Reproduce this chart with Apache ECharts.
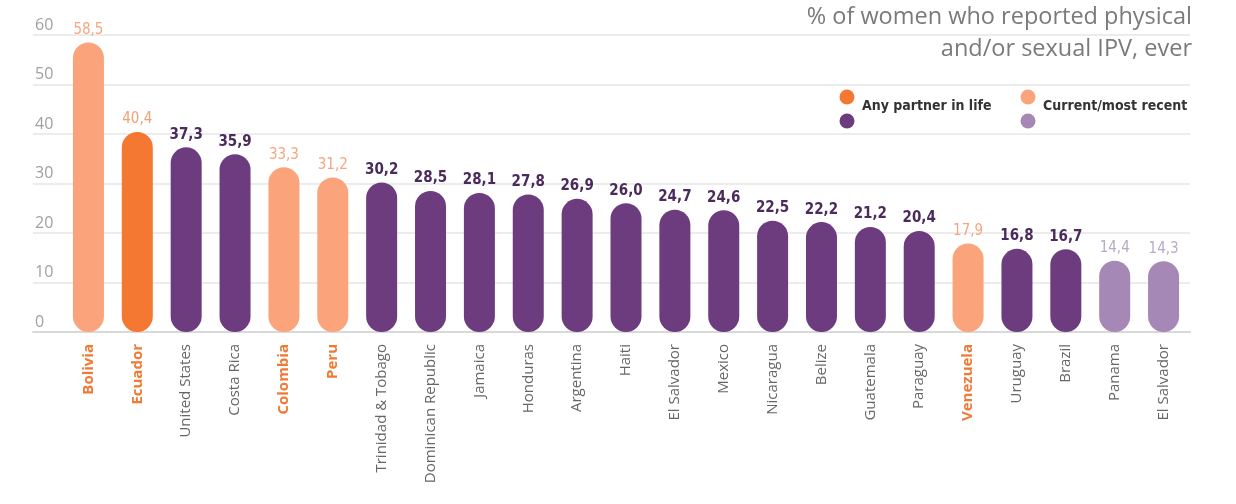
<!DOCTYPE html>
<html><head><meta charset="utf-8">
<script src="https://cdn.jsdelivr.net/npm/echarts@6/dist/echarts.min.js"></script>
<style>html,body{margin:0;padding:0;background:#fff}#c{width:1236px;height:504px}</style>
</head><body><div id="c"></div>
<script>
const countries = ["Bolivia","Ecuador","United States","Costa Rica","Colombia","Peru","Trinidad & Tobago","Dominican Republic","Jamaica","Honduras","Argentina","Haiti","El Salvador","Mexico","Nicaragua","Belize","Guatemala","Paraguay","Venezuela","Uruguay","Brazil","Panama","El Salvador"];
const values = [58.5,40.4,37.3,35.9,33.3,31.2,30.2,28.5,28.1,27.8,26.9,26.0,24.7,24.6,22.5,22.2,21.2,20.4,17.9,16.8,16.7,14.4,14.3];
// group: A = any partner (orange), B = any partner (purple), C = current (light orange), D = current (light purple)
const groups = ["C","A","B","B","C","C","B","B","B","B","B","B","B","B","B","B","B","B","C","B","B","D","D"];
const yTicks = [0,10,20,30,40,50,60];
const titleLines = ["% of women who reported physical","and/or sexual IPV, ever"];
const legendItems = ["Any partner in life","Current/most recent"];

const barColor = {A:"#f47832",B:"#6c3c7f",C:"#fba47b",D:"#a688b6"};
const labelColor = {A:"#f4a073",B:"#4b2a5c",C:"#f6a57e",D:"#b8aac3"};
const labelWeight = {A:"normal",B:"bold",C:"normal",D:"normal"};
const orangeGroup = g => g==="A"||g==="C";

const barData = values.map((v,i)=>({
  value:v,
  itemStyle:{color:barColor[groups[i]]},
  label:{color:labelColor[groups[i]],fontWeight:labelWeight[groups[i]]}
}));

const chart = echarts.init(document.getElementById('c'));
const gTop=35, gBottom=504-332;
chart.setOption({
  animation:false,
  grid:[
    {left:33,right:46,top:gTop,bottom:gBottom},
    {left:64,right:48,top:gTop,bottom:gBottom}
  ],
  xAxis:[
    {gridIndex:0,type:'category',data:[''],axisLine:{show:true,lineStyle:{color:'#d9d9d9',width:2}},axisTick:{show:false},axisLabel:{show:false}},
    {gridIndex:1,type:'category',data:countries,axisLine:{show:false},axisTick:{show:false},
     axisLabel:{rotate:90,margin:12,interval:0,
       formatter:(v,i)=> orangeGroup(groups[i]) ? '{o|'+v+'}' : '{g|'+v+'}',
       rich:{o:{color:'#f07a35',fontWeight:'bold',fontSize:15,fontFamily:'Open Sans'},
             g:{color:'#666666',fontSize:15,fontFamily:'Open Sans'}}}}
  ],
  yAxis:[
    {gridIndex:0,type:'value',min:0,max:60,interval:10,
     axisLine:{show:false},axisTick:{show:false},
     splitLine:{lineStyle:{color:'#e6e6e6',width:1.5}},
     axisLabel:{inside:true,margin:2,verticalAlign:'bottom',padding:[0,0,2,0],color:'#a0a0a0',fontSize:16,fontFamily:'Open Sans',
       formatter:v=> yTicks.includes(v)? String(v):''}},
    {gridIndex:1,type:'value',min:0,max:60,interval:10,show:false}
  ],
  series:[{
    type:'bar',xAxisIndex:1,yAxisIndex:1,data:barData,barWidth:31,
    itemStyle:{borderRadius:15.5},
    label:{show:true,position:'top',distance:5,fontSize:15,fontFamily:'DejaVu Sans Condensed',
      formatter:p=>p.value.toFixed(1).replace('.',',')}
  }],
  graphic:[
    {type:'text',right:44,top:5,style:{text:titleLines[0],fill:'#7a7a7a',font:'400 23.5px "Open Sans"',textAlign:'right'}},
    {type:'text',right:44,top:37,style:{text:titleLines[1],fill:'#7a7a7a',font:'400 23.5px "Open Sans"',textAlign:'right'}},
    {type:'circle',shape:{cx:847,cy:97,r:7.5},style:{fill:barColor.A}},
    {type:'circle',shape:{cx:847,cy:121,r:7.5},style:{fill:barColor.B}},
    {type:'circle',shape:{cx:1028,cy:97,r:7.5},style:{fill:barColor.C}},
    {type:'circle',shape:{cx:1028,cy:121,r:7.5},style:{fill:barColor.D}},
    {type:'text',left:862,top:99,style:{text:legendItems[0],fill:'#333',font:'bold 14px "DejaVu Sans Condensed"'}},
    {type:'text',left:1043,top:99,style:{text:legendItems[1],fill:'#333',font:'bold 14px "DejaVu Sans Condensed"'}}
  ]
});
</script></body></html>
